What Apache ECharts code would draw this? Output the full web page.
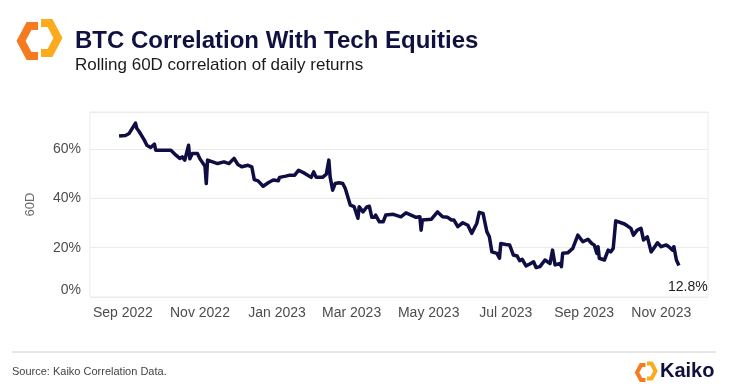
<!DOCTYPE html>
<html>
<head>
<meta charset="utf-8">
<script src="https://cdn.jsdelivr.net/npm/echarts@6/dist/echarts.min.js"></script>
<style>
html,body{margin:0;padding:0;background:#fff;}
#chart{width:731px;height:390px;}
</style>
</head>
<body>
<div id="chart"></div>
<script>
var titleText = 'BTC Correlation With Tech Equities';
var subtitleText = 'Rolling 60D correlation of daily returns';
var sourceText = 'Source: Kaiko Correlation Data.';
var yAxisName = '60D';
var xTickDates = ['2022-09-01','2022-11-01','2023-01-01','2023-03-01','2023-05-01','2023-07-01','2023-09-01','2023-11-01'];
var monthNames = ['Jan','Feb','Mar','Apr','May','Jun','Jul','Aug','Sep','Oct','Nov','Dec'];
var yTicks = [0, 20, 40, 60];

var dates = [
'2022-08-29','2022-09-03','2022-09-06','2022-09-11','2022-09-12','2022-09-14','2022-09-18','2022-09-20','2022-09-23','2022-09-26',
'2022-09-27','2022-10-04','2022-10-09','2022-10-10','2022-10-13','2022-10-16','2022-10-18','2022-10-20','2022-10-23','2022-10-24',
'2022-10-26','2022-10-30','2022-11-01','2022-11-05','2022-11-06','2022-11-07','2022-11-11','2022-11-15','2022-11-20','2022-11-24',
'2022-11-28','2022-12-01','2022-12-04','2022-12-09','2022-12-12','2022-12-14','2022-12-17','2022-12-21','2022-12-25','2022-12-29',
'2023-01-02','2023-01-03','2023-01-08','2023-01-11','2023-01-15','2023-01-18','2023-01-23','2023-01-28','2023-01-30','2023-02-01',
'2023-02-06','2023-02-09','2023-02-11','2023-02-12','2023-02-14','2023-02-16','2023-02-19','2023-02-22','2023-02-24','2023-02-28',
'2023-03-03','2023-03-06','2023-03-07','2023-03-10','2023-03-13','2023-03-15','2023-03-17','2023-03-19','2023-03-20','2023-03-23',
'2023-03-26','2023-03-28','2023-04-03','2023-04-09','2023-04-13','2023-04-17','2023-04-21','2023-04-24','2023-04-25','2023-04-26',
'2023-05-03','2023-05-08','2023-05-12','2023-05-16','2023-05-19','2023-05-21','2023-05-24','2023-05-28','2023-06-01','2023-06-04',
'2023-06-08','2023-06-10','2023-06-13','2023-06-16','2023-06-18','2023-06-20','2023-06-24','2023-06-26','2023-06-27','2023-07-01',
'2023-07-04','2023-07-07','2023-07-10','2023-07-12','2023-07-14','2023-07-17','2023-07-20','2023-07-23','2023-07-25','2023-07-28',
'2023-08-01','2023-08-05','2023-08-07','2023-08-09','2023-08-13','2023-08-14','2023-08-15','2023-08-19','2023-08-23','2023-08-27',
'2023-08-28','2023-08-31','2023-09-04','2023-09-07','2023-09-09','2023-09-11','2023-09-12','2023-09-13','2023-09-17','2023-09-20',
'2023-09-22','2023-09-24','2023-09-26','2023-10-03','2023-10-08','2023-10-10','2023-10-13','2023-10-16','2023-10-18','2023-10-21',
'2023-10-24','2023-10-26','2023-10-29','2023-11-01','2023-11-05','2023-11-07','2023-11-10','2023-11-11','2023-11-13','2023-11-15'
];
var corr = [
65.3,65.5,66.3,70.5,68.4,67.0,63.6,61.5,60.6,62.0,
59.5,59.5,59.5,60.0,57.5,56.2,56.8,55.5,61.5,56.0,
58.2,58.2,56.0,53.0,46.0,55.5,54.8,54.1,54.8,54.1,
56.2,53.7,52.8,53.4,52.8,47.6,47.1,44.9,46.3,47.4,
47.1,48.5,49.0,49.4,49.4,51.4,50.1,48.5,50.7,48.5,
48.5,49.8,55.5,48.7,43.3,46.0,46.3,46.0,44.0,37.2,
36.6,31.9,36.6,34.5,36.5,36.8,32.3,32.3,33.2,30.5,
30.5,33.2,33.5,32.5,34.1,33.2,32.3,32.5,27.1,31.2,
31.5,34.5,32.5,32.3,31.2,31.2,28.5,30.1,29.1,25.8,
29.8,34.3,33.9,26.5,24.4,18.3,17.7,15.7,21.7,21.3,
21.1,17.0,16.6,14.7,15.3,12.6,13.4,14.3,11.9,12.3,
15.0,13.6,19.0,13.0,13.6,12.3,17.7,17.9,19.7,25.1,
24.4,22.4,23.4,21.7,21.1,17.7,20.4,15.7,15.0,19.0,
18.3,19.7,30.9,29.6,27.8,25.1,27.1,27.8,23.1,24.4,
18.3,19.7,22.0,20.4,21.1,20.4,19.0,20.4,15.0,12.8
];
var xMinDate = '2022-08-06';
var xMaxDate = '2023-12-08';

function toTs(s){ var p = s.split('-'); return Date.UTC(+p[0], +p[1]-1, +p[2]); }

var seriesData = dates.map(function(d,i){ return [toTs(d), corr[i]]; });
var FONT = '"Liberation Sans", Arial, sans-serif';
var NAVY = '#0e0e45';

var chart = echarts.init(document.getElementById('chart'), null, {renderer:'canvas'});

function logo(ox, oy, s){
  function P(x, y){ return [ox + x*s, oy + y*s]; }
  return [
    {type:'polyline', shape:{points:[P(19,4),P(10,4),P(2,19),P(10,34),P(19,34)]},
     style:{stroke:'#f47b20', lineWidth:8*s, fill:null, lineJoin:'miter'}},
    {type:'polyline', shape:{points:[P(22,1),P(31,1),P(39,16),P(31,31),P(22,31)]},
     style:{stroke:'#fbab1c', lineWidth:8*s, fill:null, lineJoin:'miter'}}
  ];
}

var graphics = [].concat(
  logo(19, 22, 1),
  [
    {type:'text', left:75, top:29, style:{text:titleText, font:'bold 24px ' + FONT, fill:'#111140'}},
    {type:'text', left:75, top:57, style:{text:subtitleText, font:'17px ' + FONT, fill:'#1a1a1a'}},
    {type:'line', shape:{x1:12, y1:352, x2:716, y2:352}, style:{stroke:'#d0d0d0', lineWidth:1}},
    {type:'text', left:12, top:366, style:{text:sourceText, font:'11px ' + FONT, fill:'#444'}}
  ],
  logo(636, 363, 0.5),
  [
    {type:'text', left:660, top:361, style:{text:'Kaiko', font:'bold 20px ' + FONT, fill:'#111140'}}
  ]
);

var option = {
  animation:false,
  backgroundColor:'#fff',
  textStyle:{fontFamily:FONT},
  grid:{left:90, right:23, top:112, bottom:93, show:true, borderColor:'#ebebeb', borderWidth:1, containLabel:false},
  xAxis:{
    type:'value',
    min:toTs(xMinDate),
    max:toTs(xMaxDate),
    axisLine:{show:false},
    axisTick:{show:false},
    splitLine:{show:false},
    axisLabel:{
      customValues:xTickDates.map(toTs),
      fontSize:14, color:'#4d4d4d', margin:9, fontFamily:FONT,
      formatter:function(v){ var d = new Date(v); return monthNames[d.getUTCMonth()] + ' ' + d.getUTCFullYear(); }
    }
  },
  yAxis:{
    type:'value',
    min:0, max:75, interval:20,
    name:yAxisName, nameLocation:'middle', nameGap:53, nameRotate:90,
    nameTextStyle:{fontSize:13, color:'#6a6a6a', fontFamily:FONT},
    axisLine:{show:false},
    axisTick:{show:false},
    splitLine:{lineStyle:{color:'#ebebeb', width:1}},
    axisLabel:{
      fontSize:14, color:'#4d4d4d', margin:9, fontFamily:FONT,
      formatter:function(v){
        if (yTicks.indexOf(v) < 0) return '';
        if (v === 0) return '{z|0%}';
        return v + '%';
      },
      rich:{z:{fontSize:14, color:'#4d4d4d', fontFamily:FONT, padding:[0,0,14,0]}}
    }
  },
  series:[{
    type:'line',
    data:seriesData,
    showSymbol:false,
    smooth:false,
    lineStyle:{color:NAVY, width:3.5, join:'round'},
    endLabel:{
      show:true,
      formatter:function(p){ return p.value[1].toFixed(1) + '%'; },
      fontSize:14, color:'#222', fontFamily:FONT,
      offset:[-19, 22]
    }
  }],
  graphic:graphics
};
chart.setOption(option);
</script>
</body>
</html>
